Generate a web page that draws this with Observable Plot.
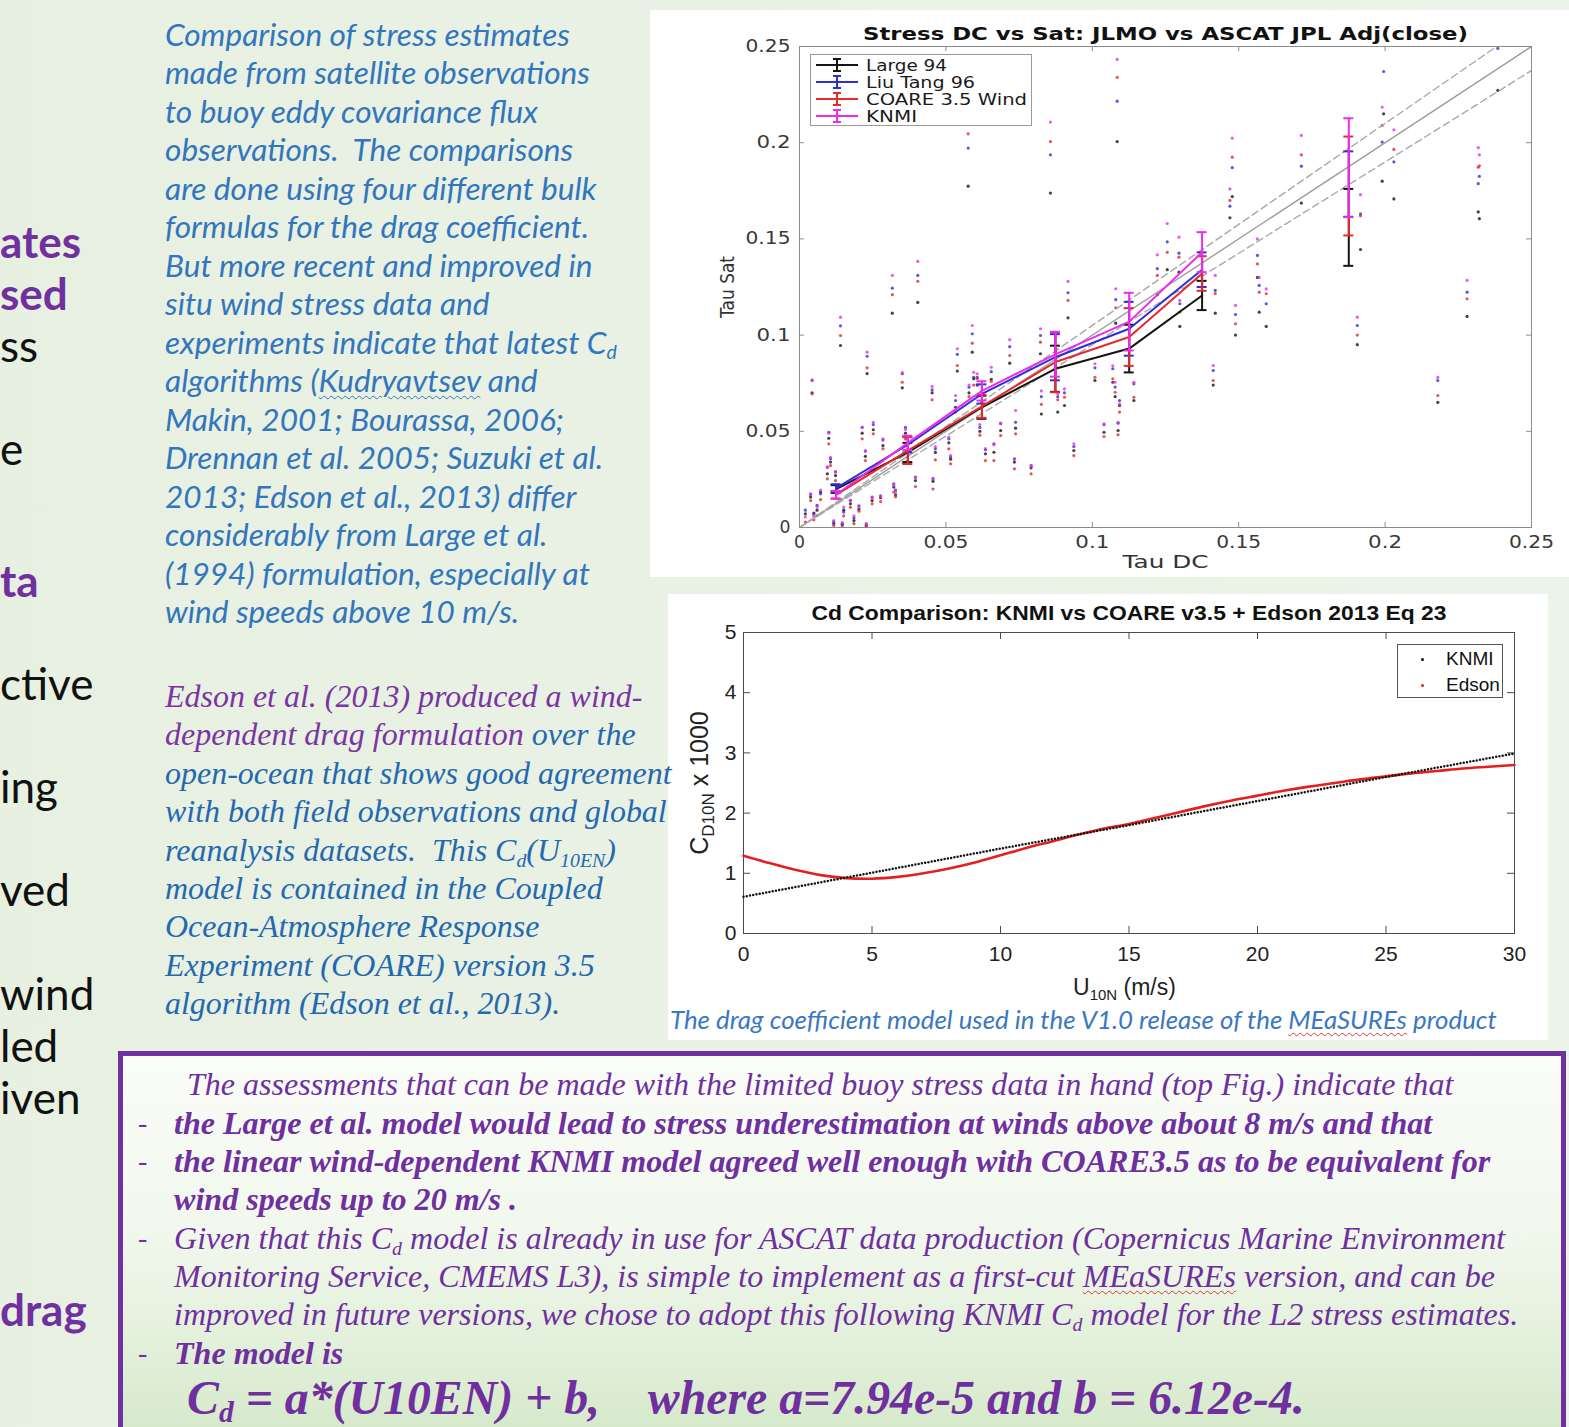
<!DOCTYPE html>
<html><head><meta charset="utf-8">
<script src="https://cdn.jsdelivr.net/npm/d3@7"></script>
<script src="https://cdn.jsdelivr.net/npm/@observablehq/plot@0.6"></script>
<style>
html,body{margin:0;padding:0;}
body{width:1569px;height:1427px;overflow:hidden;position:relative;background:linear-gradient(90deg,#e7f0e1 0%,#ecf3e8 100%);}
.ln{position:absolute;white-space:nowrap;}
.ln span{white-space:nowrap;}
sub{font-size:0.62em;vertical-align:-0.28em;line-height:0;}
.frag{position:absolute;left:0;font-family:Lato,"Open Sans",sans-serif;font-size:44px;white-space:nowrap;line-height:52px;height:52px;}
.wavy{text-decoration:underline wavy #d23c3c;text-decoration-thickness:1px;text-underline-offset:3px;}
.wavyb{text-decoration:underline wavy currentColor;text-decoration-thickness:1px;text-underline-offset:3px;}
</style></head>
<body>
<script>
// ---------------- TOP CHART DATA ----------------
const tauTicks = [0, 0.05, 0.1, 0.15, 0.2, 0.25];
const tauDC = [0.0020,0.0038,0.0043,0.0049,0.0060,0.0072,0.0095,0.0100,0.0106,0.0117,
 0.0123,0.0140,0.0146,0.0151,0.0174,0.0186,0.0203,0.0214,0.0225,0.0228,
 0.0231,0.0248,0.0252,0.0277,0.0285,0.0317,0.0322,0.0328,0.0351,0.0362,
 0.0396,0.0404,0.0453,0.0456,0.0464,0.0510,0.0516,0.0533,0.0539,0.0576,
 0.0579,0.0590,0.0595,0.0607,0.0616,0.0635,0.0655,0.0664,0.0687,0.0718,
 0.0734,0.0738,0.0791,0.0823,0.0826,0.0857,0.0882,0.0905,0.0917,0.0937,
 0.1009,0.1040,0.1070,0.1078,0.1085,0.1080,0.1088,0.1093,0.1142,0.1222,
 0.1256,0.1296,0.1299,0.1413,0.1420,0.1478,0.1470,0.1489,0.1564,0.1570,
 0.1594,0.1714,0.1905,0.1916,0.1990,0.1995,0.2030,0.2180,0.2280,0.2318,
 0.2322,0.2385];
const satLarge = [0.0071,0.0158,0.0700,0.0075,0.0090,0.0184,0.0279,0.0464,0.0340,0.0020,
 0.0270,0.0946,0.0015,0.0090,0.0123,0.0036,0.0095,0.0490,0.0370,0.0010,
 0.0800,0.0140,0.0508,0.0155,0.0426,0.1114,0.0210,0.0170,0.0726,0.0490,
 0.0244,0.1170,0.0700,0.0240,0.0390,0.0440,0.0355,0.0625,0.0813,0.1774,
 0.0700,0.0911,0.0773,0.0740,0.0500,0.0383,0.0770,0.0391,0.0504,0.0854,
 0.0340,0.0516,0.0310,0.0903,0.0590,0.1738,0.0600,0.0634,0.1090,0.0400,
 0.0764,0.0495,0.0755,0.0680,0.2006,0.1062,0.0504,0.0634,0.0660,0.1210,
 0.1340,0.1327,0.1045,0.0740,0.1114,0.1720,0.1610,0.1000,0.1300,0.1119,
 0.1045,0.1686,0.0950,0.1445,0.1800,0.2150,0.1708,0.0650,0.1097,0.1640,
 0.1605,0.2272];
const satLiuTang = [0.0090,0.0172,0.0764,0.0070,0.0115,0.0175,0.0314,0.0495,0.0357,0.0030,
 0.0290,0.1048,0.0020,0.0080,0.0140,0.0050,0.0112,0.0521,0.0397,0.0019,
 0.0890,0.0158,0.0535,0.0165,0.0455,0.1244,0.0227,0.0195,0.0799,0.0520,
 0.0262,0.1310,0.0715,0.0253,0.0409,0.0461,0.0366,0.0660,0.0900,0.1972,
 0.0729,0.1007,0.0781,0.0780,0.0520,0.0404,0.0810,0.0435,0.0540,0.0940,
 0.0357,0.0547,0.0322,0.0998,0.0680,0.1937,0.0680,0.0700,0.1220,0.0421,
 0.0830,0.0535,0.0825,0.0730,0.2216,0.1184,0.0542,0.0660,0.0747,0.1345,
 0.1485,0.1426,0.1163,0.0816,0.1232,0.1870,0.1670,0.1107,0.1414,0.1258,
 0.1163,0.1878,0.1050,0.1630,0.2003,0.2370,0.1900,0.0764,0.1223,0.1787,
 0.1825,0.2490];
const satCoare = [0.0028,0.0140,0.0695,0.0040,0.0062,0.0145,0.0253,0.0435,0.0322,0.0010,
 0.0244,0.0998,0.0005,0.0060,0.0105,0.0020,0.0085,0.0461,0.0348,0.0005,
 0.0830,0.0123,0.0487,0.0135,0.0409,0.1210,0.0184,0.0160,0.0755,0.0460,
 0.0213,0.1280,0.0664,0.0200,0.0352,0.0409,0.0331,0.0600,0.0842,0.2046,
 0.0680,0.0958,0.0740,0.0775,0.0480,0.0348,0.0759,0.0348,0.0478,0.0894,
 0.0305,0.0487,0.0279,0.0963,0.0640,0.2006,0.0664,0.0677,0.1180,0.0374,
 0.0781,0.0473,0.0773,0.0703,0.2340,0.1142,0.0482,0.0600,0.0677,0.1310,
 0.1430,0.1405,0.1120,0.0764,0.1216,0.1925,0.1700,0.1059,0.1370,0.1223,
 0.1215,0.1937,0.1000,0.1620,0.2090,null,0.1965,0.0686,0.1189,0.1873,
 0.1880,null];
const satKnmi = [0.0055,0.0175,0.0768,0.0060,0.0106,0.0195,0.0312,0.0490,0.0365,0.0036,
 0.0287,0.1093,0.0025,0.0106,0.0142,0.0061,0.0106,0.0520,0.0398,0.0019,
 0.0911,0.0155,0.0547,0.0160,0.0461,0.1310,0.0220,0.0185,0.0805,0.0510,
 0.0260,0.1383,0.0733,0.0255,0.0420,0.0470,0.0374,0.0686,0.0929,0.2140,
 0.0740,0.1050,0.0807,0.0799,0.0535,0.0410,0.0833,0.0430,0.0542,0.0976,
 0.0355,0.0608,0.0320,0.1033,0.0710,0.2107,0.0695,0.0720,0.1279,0.0435,
 0.0851,0.0539,0.0840,0.0755,0.2433,0.1241,0.0547,0.0643,0.0755,0.1417,
 0.1580,0.1509,0.1180,0.0842,0.1310,0.2024,0.1760,0.1154,0.1500,0.1300,
 0.1240,0.2038,0.1093,0.1730,0.2185,null,0.2067,0.0780,0.1284,0.1974,
 0.1937,null];
// binned means and error bars
const binTau     = [0.0125, 0.0370, 0.0623, 0.0874, 0.1126, 0.1375, 0.1876];
const binJoined  = [1, 1, 1, 1, 1, 1, 0];
const binLarge   = [0.0200, 0.0390, 0.0625, 0.0825, 0.0930, 0.1206, 0.1560];
const binLiuTang = [0.0205, 0.0430, 0.0694, 0.0885, 0.1033, 0.1340, 0.1785];
const binCoare   = [0.0170, 0.0400, 0.0630, 0.0860, 0.0990, 0.1320, 0.1775];
const binKnmi    = [0.0170, 0.0440, 0.0710, 0.0900, 0.1070, 0.1431, 0.1870];
const errLarge   = [0.002, 0.005, 0.006, 0.012, 0.0124, 0.0076, 0.0200];
const errLiuTang = [0.002, 0.004, 0.005, 0.012, 0.0140, 0.0090, 0.0170];
const errCoare   = [0.002, 0.007, 0.006, 0.0157, 0.0150, 0.0090, 0.0257];
const errKnmi    = [0.002, 0.0037, 0.005, 0.0116, 0.0150, 0.0104, 0.0257];
const seriesNames = ["Large 94", "Liu Tang 96", "COARE 3.5 Wind", "KNMI"];
const refSlopes = [1, 1.05, 0.95];

// ---------------- BOTTOM CHART DATA ----------------
const windTicks = [0, 5, 10, 15, 20, 25, 30];
const cdTicks = [0, 1, 2, 3, 4, 5];
const windSpeed = [0,1,2,3,4,5,6,7,8,9,10,11,12,13,14,15,16,17,18,19,20,21,22,23,24,25,26,27,28,29,30];
const cdEdson = [1.29,1.17,1.06,0.97,0.92,0.91,0.94,1.00,1.08,1.18,1.30,1.42,1.53,1.64,1.74,1.82,
 1.92,2.02,2.12,2.21,2.29,2.37,2.44,2.50,2.56,2.61,2.66,2.70,2.74,2.77,2.80];
const windKnmi = [0, 5, 10, 15, 20, 25, 30];
const cdKnmi = [0.61, 1.01, 1.41, 1.80, 2.20, 2.60, 2.99];

// ---------------- helpers ----------------
const colors = ["#141414", "#2f2fd6", "#e42a2a", "#ec2cec"];
const series = [
  {sat: satLarge, bin: binLarge, err: errLarge},
  {sat: satLiuTang, bin: binLiuTang, err: errLiuTang},
  {sat: satCoare, bin: binCoare, err: errCoare},
  {sat: satKnmi, bin: binKnmi, err: errKnmi}
];
function innerTicks(xt, yt, xd, yd, w, h, len, stroke) {
  const lx = (xd[1]-xd[0])*len/w, ly = (yd[1]-yd[0])*len/h;
  return [
    Plot.ruleX(xt, {x: d=>d, y1: yd[0], y2: yd[0]+ly, stroke}),
    Plot.ruleX(xt, {x: d=>d, y1: yd[1], y2: yd[1]-ly, stroke}),
    Plot.ruleY(yt, {y: d=>d, x1: xd[0], x2: xd[0]+lx, stroke}),
    Plot.ruleY(yt, {y: d=>d, x1: xd[1], x2: xd[1]-lx, stroke})
  ];
}
function stretch(svg, str, len) {
  svg.querySelectorAll("text").forEach(t => {
    if (t.textContent === str) { t.setAttribute("textLength", len); t.setAttribute("lengthAdjust", "spacingAndGlyphs"); }
  });
}
const root = document.body;
function place(el, left, top) { el.style.position = "absolute"; el.style.left = left + "px"; el.style.top = top + "px"; root.appendChild(el); return el; }

// ---------------- TOP CHART ----------------
{
  const W = 919, H = 567, mL = 149, mR = 38, mT = 36, mB = 50;
  const xd = [0, 0.25], yd = [0, 0.25];
  const fmt = d => String(+d.toFixed(2));
  const obsIdx = d3.range(tauDC.length);
  const binIdx = d3.range(binTau.length);
  const capW = 0.0017;
  const marks = [];
  series.forEach((s, k) => {
    marks.push(Plot.dot(obsIdx.filter(i => s.sat[i] != null), {x: i => tauDC[i], y: i => s.sat[i], r: 1.6, fill: colors[k], fillOpacity: 0.8}));
  });
  refSlopes.forEach((sl, j) => {
    marks.push(Plot.line(xd, {x: d => d, y: d => d*sl, stroke: j ? "#a8a8a8" : "#9c9c9c", strokeWidth: 1.4, strokeDasharray: j ? "7,4" : null, clip: true}));
  });
  marks.push(Plot.frame({stroke: "#8c8c8c"}));
  marks.push(...innerTicks(tauTicks, tauTicks, xd, yd, W-mL-mR, H-mT-mB, 5, "#8c8c8c"));
  series.forEach((s, k) => {
    marks.push(Plot.line(binIdx.filter(i => binJoined[i]), {x: i => binTau[i], y: i => s.bin[i], stroke: colors[k], strokeWidth: 2}));
    marks.push(Plot.ruleX(binIdx, {x: i => binTau[i], y1: i => s.bin[i]-s.err[i], y2: i => s.bin[i]+s.err[i], stroke: colors[k], strokeWidth: 2}));
    marks.push(Plot.ruleY(binIdx, {y: i => s.bin[i]-s.err[i], x1: i => binTau[i]-capW, x2: i => binTau[i]+capW, stroke: colors[k], strokeWidth: 2}));
    marks.push(Plot.ruleY(binIdx, {y: i => s.bin[i]+s.err[i], x1: i => binTau[i]-capW, x2: i => binTau[i]+capW, stroke: colors[k], strokeWidth: 2}));
  });
  marks.push(Plot.text(["Stress DC vs Sat: JLMO vs ASCAT JPL Adj(close)"], {text: d => d, frameAnchor: "top", dy: -12, textAnchor: "middle", lineAnchor: "middle", fontWeight: "bold", fontSize: 17, fill: "#111"}));
  marks.push(Plot.text(["Tau DC"], {text: d => d, frameAnchor: "bottom", dy: 35, textAnchor: "middle", lineAnchor: "middle", fontSize: 18, fill: "#333"}));
  marks.push(Plot.text(["Tau Sat"], {text: d => d, frameAnchor: "left", dx: -72, rotate: -90, textAnchor: "middle", lineAnchor: "middle", fontSize: 19, fill: "#333"}));
  const p = Plot.plot({
    width: W, height: H, marginLeft: mL, marginRight: mR, marginTop: mT, marginBottom: mB,
    x: {domain: xd, ticks: tauTicks, tickSize: 0, tickPadding: 8, tickFormat: fmt, label: null},
    y: {domain: yd, ticks: tauTicks, tickSize: 0, tickPadding: 9, tickFormat: fmt, label: null},
    style: {background: "#fff", fontFamily: "'DejaVu Sans', sans-serif", fontSize: "17px", color: "#3a3a3a", overflow: "visible"},
    marks
  });
  place(p, 650, 10);
  stretch(p, "Stress DC vs Sat: JLMO vs ASCAT JPL Adj(close)", 605);
  stretch(p, "Tau DC", 86);
  stretch(p, "Tau Sat", 62);
  p.querySelectorAll("g[aria-label='x-axis tick label'] text, g[aria-label='y-axis tick label'] text").forEach(t => {
    const n = t.textContent.length; t.setAttribute("textLength", (n <= 1 ? 11 : n === 3 ? 34 : 45)); t.setAttribute("lengthAdjust", "spacingAndGlyphs");
  });

  // legend
  const ns = "http://www.w3.org/2000/svg";
  const lg = document.createElementNS(ns, "svg");
  lg.setAttribute("width", 222); lg.setAttribute("height", 72);
  lg.style.background = "#fff"; lg.style.outline = "1px solid #9a9a9a"; lg.style.outlineOffset = "-1px";
  const lw = [81, 109, 161, 51];
  seriesNames.forEach((nm, k) => {
    const y = 11 + k*17;
    lg.insertAdjacentHTML("beforeend",
      `<line x1="6" x2="48" y1="${y}" y2="${y}" stroke="${colors[k]}" stroke-width="2"/>` +
      `<line x1="27" x2="27" y1="${y-6}" y2="${y+6}" stroke="${colors[k]}" stroke-width="2"/>` +
      `<line x1="23" x2="31" y1="${y-6}" y2="${y-6}" stroke="${colors[k]}" stroke-width="2"/>` +
      `<line x1="23" x2="31" y1="${y+6}" y2="${y+6}" stroke="${colors[k]}" stroke-width="2"/>` +
      `<text x="56" y="${y}" dy="0.36em" font-family="DejaVu Sans" font-size="16" fill="#1a1a1a" textLength="${lw[k]}" lengthAdjust="spacingAndGlyphs">${nm}</text>`);
  });
  place(lg, 810, 54);
}

// ---------------- BOTTOM CHART ----------------
{
  const W = 880, H = 446, mL = 75, mR = 34, mT = 38, mB = 107;
  const xd = [0, 30], yd = [0, 5];
  const idx = d3.range(windSpeed.length);
  const kidx = d3.range(windKnmi.length);
  const p = Plot.plot({
    width: W, height: H, marginLeft: mL, marginRight: mR, marginTop: mT, marginBottom: mB,
    x: {domain: xd, ticks: windTicks, tickSize: 0, tickPadding: 13, tickFormat: d => String(d), label: null},
    y: {domain: yd, ticks: cdTicks, tickSize: 0, tickPadding: 7, tickFormat: d => String(d), label: null},
    style: {background: "#fff", fontFamily: "'Liberation Sans', Arial, sans-serif", fontSize: "21px", color: "#222", overflow: "visible"},
    marks: [
      Plot.frame({stroke: "#4a4a4a"}),
      ...innerTicks(windTicks, cdTicks, xd, yd, W-mL-mR, H-mT-mB, 7, "#4a4a4a"),
      Plot.line(idx, {x: i => windSpeed[i], y: i => cdEdson[i], stroke: "#e41f1f", strokeWidth: 2.6, curve: "catmull-rom"}),
      Plot.line(kidx, {x: i => windKnmi[i], y: i => cdKnmi[i], stroke: "#111", strokeWidth: 2.5, strokeDasharray: "0,3.3", strokeLinecap: "round"}),
      Plot.text(["Cd Comparison: KNMI vs COARE v3.5 + Edson 2013 Eq 23"], {text: d => d, frameAnchor: "top", dy: -19, textAnchor: "middle", lineAnchor: "middle", fontWeight: "bold", fontSize: 21, fill: "#111"})
    ]
  });
  place(p, 668, 594);
  stretch(p, "Cd Comparison: KNMI vs COARE v3.5 + Edson 2013 Eq 23", 635);

  const lg = document.createElement("div");
  lg.style.cssText = "width:106px;height:54px;background:#fff;border:1px solid #555;box-sizing:border-box;font-family:'Liberation Sans',Arial;font-size:19px;color:#111;";
  lg.innerHTML = `<div style="position:absolute;left:23px;top:13px;width:3px;height:3px;border-radius:2px;background:#111"></div>
   <div style="position:absolute;left:48px;top:3px;line-height:22px">KNMI</div>
   <div style="position:absolute;left:23px;top:39px;width:3px;height:3px;border-radius:2px;background:#e41f1f"></div>
   <div style="position:absolute;left:48px;top:29px;line-height:22px">Edson</div>`;
  place(lg, 1397, 644);

  const yl = document.createElement("div");
  yl.style.cssText = "font-family:'Liberation Sans',Arial;font-size:25px;color:#222;white-space:nowrap;transform:translate(-50%,-50%) rotate(-90deg);line-height:28px;";
  yl.innerHTML = "C<sub style='font-size:17px;vertical-align:-6px'>D10N</sub> x 1000";
  place(yl, 699, 783);

  const xl = document.createElement("div");
  xl.style.cssText = "font-family:'Liberation Sans',Arial;font-size:23px;color:#222;white-space:nowrap;line-height:24px;";
  xl.innerHTML = "U<sub style='font-size:15px;vertical-align:-5px'>10N</sub> (m/s)";
  place(xl, 1073, 975);

  const cap = document.createElement("div");
  cap.className = "ln";
  cap.style.cssText += "width:878px;height:33px;background:#fff;font-family:Lato,sans-serif;font-style:italic;font-size:22px;color:#3a78c2;line-height:30px;padding-left:2px;box-sizing:border-box;";
  cap.innerHTML = "<span id='capref'>The drag coefficient model used in the V1.0 release of the <span class='wavy'>MEaSUREs</span> product</span>";
  place(cap, 668, 1004);
}

// ---------------- TEXT BLOCKS ----------------
function block(lines, o) {
  const c = document.createElement("div");
  c.style.cssText = `position:absolute;left:${o.left}px;top:0;font-family:${o.font};font-style:${o.style||'italic'};font-weight:${o.weight||400};color:${o.color};font-size:${o.size}px;`;
  lines.forEach((h, i) => {
    const d = document.createElement("div");
    d.className = "ln";
    const y = (o.ys ? o.ys[i] : o.y0 + i*o.step);
    d.style.cssText = `left:${(o.xs ? o.xs[i] : 0)}px;top:${y - o.lh/2}px;height:${o.lh}px;line-height:${o.lh}px;`;
    d.innerHTML = "<span>" + h + "</span>";
    c.appendChild(d);
  });
  root.appendChild(c);
  c._fit = () => {
    const sp = c.children[o.ref].firstChild;
    c.style.fontSize = o.size + "px";
    const w = sp.getBoundingClientRect().width;
    c.style.fontSize = (o.size * o.target / w) + "px";
  };
  return c;
}
const blocks = [];
blocks.push(block([
  "Comparison of stress estimates",
  "made from satellite observations",
  "to buoy eddy covariance flux",
  "observations.&nbsp; The comparisons",
  "are done using four different bulk",
  "formulas for the drag coefficient.",
  "But more recent and improved in",
  "situ wind stress data and",
  "experiments indicate that latest C<sub>d</sub>",
  "algorithms (<span class='wavyb'>Kudryavtsev</span> and",
  "Makin, 2001; Bourassa, 2006;",
  "Drennan et al. 2005; Suzuki et al.",
  "2013; Edson et al., 2013) differ",
  "considerably from Large et al.",
  "(1994) formulation, especially at",
  "wind speeds above 10 m/s."
], {left: 165, y0: 34, step: 38.47, lh: 38, font: "Lato, 'Open Sans', sans-serif", color: "#3276bd", size: 26, ref: 1, target: 425}));

blocks.push(block([
  "<span style='color:#7a35a3'>Edson et al. (2013) produced a wind-</span>",
  "<span style='color:#7a35a3'>dependent drag formulation</span> over the",
  "open-ocean that shows good agreement",
  "with both field observations and global",
  "reanalysis datasets.&nbsp; This C<sub>d</sub>(U<sub>10EN</sub>)",
  "model is contained in the Coupled",
  "Ocean-Atmosphere Response",
  "Experiment (COARE) version 3.5",
  "algorithm (Edson et al., 2013)."
], {left: 165, y0: 697, step: 38.4, lh: 38, font: "'Liberation Serif', 'Times New Roman', serif", color: "#2469b0", size: 28, ref: 2, target: 507}));

// box
{
  const bx = document.createElement("div");
  bx.style.cssText = "width:1448px;height:430px;border:5px solid #7030a0;box-sizing:border-box;background:linear-gradient(180deg,#fafcf8 0%,#f2f8ee 40%,#dfeed6 75%,#cfe5c1 100%);";
  place(bx, 118, 1051);
  [1123, 1161, 1238, 1353].forEach(y => {
    const d = document.createElement("div");
    d.className = "ln";
    d.style.cssText = `left:138px;top:${y-19}px;height:38px;line-height:38px;font-family:'Liberation Serif',serif;font-size:28px;color:#6f2f9f;`;
    d.textContent = "-";
    root.appendChild(d);
  });
}
const serif = "'Liberation Serif', 'Times New Roman', serif";
blocks.push(block([
  "The assessments that can be made with the limited buoy stress data in hand (top Fig.) indicate that",
  "Given that this C<sub>d</sub> model is already in use for ASCAT data production (Copernicus Marine Environment",
  "Monitoring Service, CMEMS L3), is simple to implement as a first-cut <span class='wavy'>MEaSUREs</span> version, and can be",
  "improved in future versions, we chose to adopt this following KNMI C<sub>d</sub> model for the L2 stress estimates."
], {left: 0, xs: [187, 174, 174, 174], ys: [1084, 1238, 1276, 1314], lh: 38, font: serif, color: "#6f2f9f", size: 28, ref: 3, target: 1345}));
blocks.push(block([
  "the Large et al. model would lead to stress underestimation at winds above about 8 m/s and that",
  "the linear wind-dependent KNMI model agreed well enough with COARE3.5 as to be equivalent for",
  "wind speeds up to 20 m/s .",
  "The model is"
], {left: 174, ys: [1123, 1161, 1199, 1353], lh: 38, font: serif, color: "#6f2f9f", weight: 700, size: 28, ref: 0, target: 1259}));
blocks.push(block([
  "C<sub>d</sub> = a*(U10EN) + b,&nbsp;&nbsp;&nbsp; where a=7.94e-5 and b = 6.12e-4."
], {left: 187, ys: [1398], lh: 56, font: serif, color: "#6f2f9f", weight: 700, size: 44, ref: 0, target: 1118}));

// left fragments of a cut-off text column
const frags = [
  ["ates", 241, 1], ["sed", 293, 1], ["ss", 345, 0], ["e", 448, 0], ["ta", 580, 1],
  ["ctive", 683, 0], ["ing", 786, 0], ["ved", 889, 0], ["wind", 993, 0], ["led", 1045, 0],
  ["iven", 1097, 0], ["drag", 1309, 1]
];
frags.forEach(([t, yc, purple]) => {
  const d = document.createElement("div");
  d.className = "frag";
  d.style.top = (yc - 26) + "px";
  d.style.color = purple ? "#7030a0" : "#111";
  d.style.fontWeight = purple ? 700 : 400;
  d.textContent = t;
  root.appendChild(d);
});

function fitAll() {
  blocks.forEach(b => b._fit());
  const cr = document.getElementById("capref");
  const cap = cr.parentElement;
  cap.style.fontSize = "22px";
  cap.style.fontSize = (22 * 827 / cr.getBoundingClientRect().width) + "px";
}
fitAll();
if (document.fonts && document.fonts.ready) document.fonts.ready.then(fitAll);
</script>
</body></html>
